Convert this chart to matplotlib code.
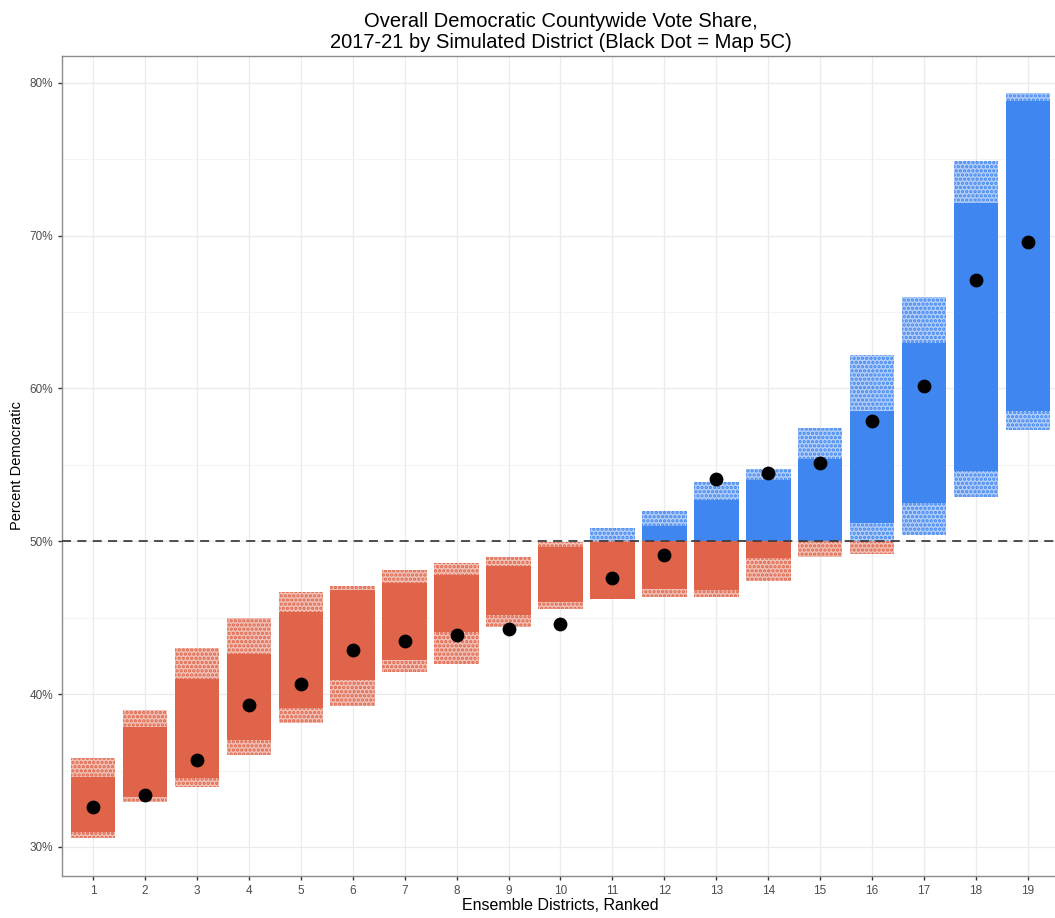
import matplotlib.pyplot as plt
from matplotlib.colors import to_rgba

plt.rcParams['font.family'] = ['Liberation Sans', 'DejaVu Sans']
plt.rcParams['hatch.linewidth'] = 1.6

# ensemble districts, ranked by Democratic share
districts = list(range(1, 20))
# spread of simulated plans per district (percent): outer tails and dense core
tail_lo = [30.6, 32.95, 33.9, 36.0, 38.1, 39.2, 41.45, 42.0, 44.4, 45.6,
           46.2, 46.35, 46.35, 47.4, 48.95, 49.2, 50.4, 52.9, 57.25]
core_lo = [31.0, 33.3, 34.5, 37.0, 39.1, 40.9, 42.2, 44.05, 45.2, 46.0,
           46.2, 46.9, 46.8, 48.9, 50.0, 51.2, 52.5, 54.6, 58.55]
core_hi = [34.6, 37.85, 41.0, 42.6, 45.35, 46.8, 47.3, 47.8, 48.4, 49.6,
           49.95, 51.0, 52.7, 54.0, 55.4, 58.55, 63.0, 72.1, 78.8]
tail_hi = [35.8, 38.95, 43.0, 45.0, 46.65, 47.1, 48.1, 48.6, 49.0, 49.95,
           50.9, 52.0, 53.85, 54.7, 57.4, 62.2, 66.0, 74.9, 79.3]
# Map 5C district values
map_5c = [32.6, 33.4, 35.7, 39.3, 40.65, 42.9, 43.5, 43.9, 44.25, 44.6,
          47.6, 49.1, 54.05, 54.45, 55.1, 57.85, 60.15, 67.1, 69.55]

RED = '#E0644A'
BLUE = '#4086F0'
THRESH = 50.0


def draw_span(ax, x, lo, hi, sparse):
    # split the span at 50% so each side gets its party colour
    parts = []
    if lo < THRESH:
        parts.append((lo, min(hi, THRESH), RED))
    if hi > THRESH:
        parts.append((max(lo, THRESH), hi, BLUE))
    for bot, top, col in parts:
        if sparse:
            # thinner scatter of plans: light fill with a dotted texture
            ax.bar(x, top - bot, bottom=bot, width=0.86,
                   facecolor=to_rgba(col, 0.4), edgecolor=col, hatch='....',
                   linewidth=0, zorder=2)
        else:
            ax.bar(x, top - bot, bottom=bot, width=0.86, color=col,
                   linewidth=0, zorder=2)


fig = plt.figure(figsize=(10.55, 9.18), dpi=100, facecolor='white')
ax = fig.add_axes([62 / 1055, 42 / 918, 997 / 1055, 820 / 918])

for i, d in enumerate(districts):
    draw_span(ax, d, tail_lo[i], core_lo[i], True)
    draw_span(ax, d, core_lo[i], core_hi[i], False)
    draw_span(ax, d, core_hi[i], tail_hi[i], True)

ax.scatter(districts, map_5c, s=80, color='black', zorder=4)
ax.axhline(THRESH, color='#404040', linestyle=(0, (5, 3.5)), linewidth=1.3, zorder=3)

ax.set_xlim(0.4, 19.6)
ax.set_ylim(28.1, 81.75)
ax.set_xticks(districts)
ax.set_xticklabels([str(d) for d in districts])
ax.set_yticks([30, 40, 50, 60, 70, 80])
ax.set_yticklabels(['30%', '40%', '50%', '60%', '70%', '80%'])
ax.set_yticks([35, 45, 55, 65, 75], minor=True)
ax.grid(True, which='major', color='#EBEBEB', linewidth=0.9, zorder=0)
ax.grid(True, which='minor', axis='y', color='#F2F2F2', linewidth=0.6, zorder=0)
ax.set_axisbelow(True)
ax.tick_params(axis='both', which='major', length=3, width=1, color='#333333',
               labelcolor='#4D4D4D', labelsize=8.5)
ax.tick_params(axis='y', which='minor', length=0)
for side in ['left', 'bottom', 'top', 'right']:
    ax.spines[side].set_color('#8C8C8C')
    ax.spines[side].set_linewidth(1.0)

ax.set_xlabel('Ensemble Districts, Ranked', fontsize=11.5, labelpad=1)
ax.set_ylabel('Percent Democratic', fontsize=10.5, labelpad=4)
ax.set_title('Overall Democratic Countywide Vote Share,\n'
             '2017-21 by Simulated District (Black Dot = Map 5C)',
             fontsize=14.5, pad=6, linespacing=1.1)

fig.savefig('out.png', dpi=100, facecolor='white')
